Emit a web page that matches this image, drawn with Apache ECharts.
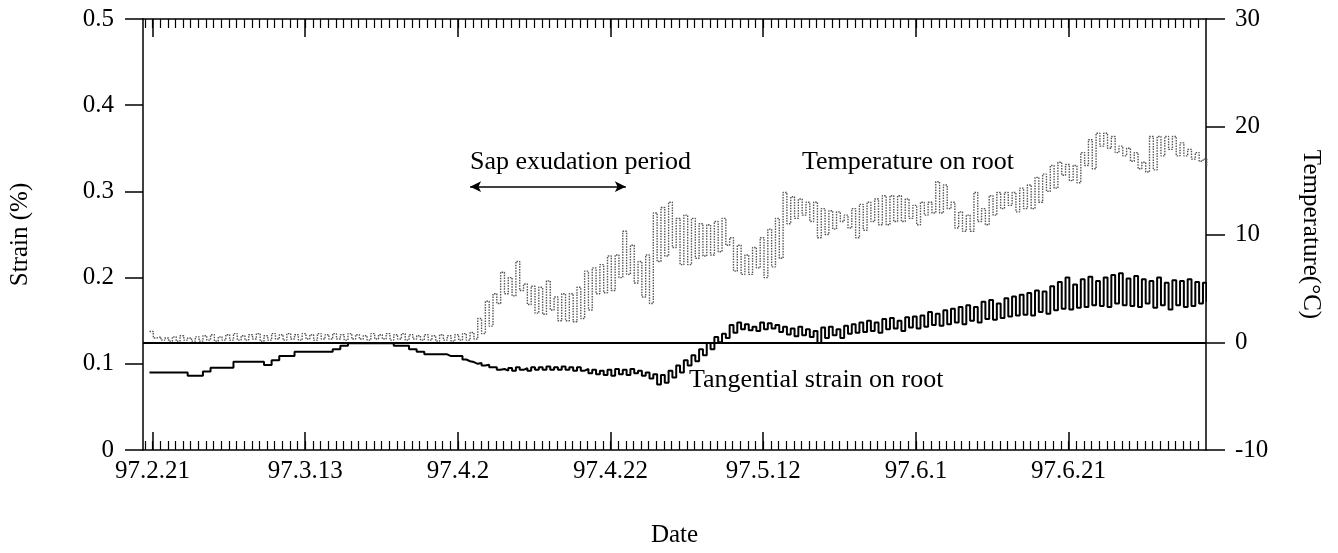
<!DOCTYPE html>
<html><head><meta charset="utf-8">
<script src="https://cdn.jsdelivr.net/npm/echarts@6/dist/echarts.min.js"></script>
<style>html,body{margin:0;padding:0;background:#fff}#c{width:1338px;height:553px}</style>
</head><body><div id="c"></div>
<script>
// day 0 = 97.2.21; one entry per day starting at firstDay
const firstDay = -1;
const tickDays = [0, 20, 40, 60, 80, 100, 120];
const tickLabels = ['97.2.21', '97.3.13', '97.4.2', '97.4.22', '97.5.12', '97.6.1', '97.6.21'];

// Temperature on root (°C): daily high / low
const tempHigh = [1.0,
  0.5,0.4,0.5,0.6,0.4,0.5,0.6,0.7,0.5,0.7,
  0.8,0.6,0.7,0.8,0.6,0.8,0.7,0.8,0.7,0.8,
  0.7,0.8,0.7,0.8,0.7,0.8,0.7,0.6,0.8,0.7,
  0.8,0.7,0.8,0.7,0.6,0.7,0.6,0.7,0.6,0.7,
  0.8,0.9,2.2,3.8,4.5,6.5,6.0,7.5,5.4,5.2,
  5.1,5.7,4.2,4.5,4.5,5.1,6.6,6.9,7.2,8.0,
  8.1,10.3,9.0,7.5,8.1,12.0,12.5,13.0,11.5,11.8,
  11.5,11.0,10.9,11.2,11.5,9.7,9.0,8.1,8.8,9.7,
  10.5,11.5,13.9,13.5,13.3,13.0,13.0,12.4,12.2,12.1,
  11.8,12.4,12.8,13.0,13.3,13.6,13.6,13.6,13.3,12.7,
  13.0,13.0,14.9,14.6,13.0,12.1,11.8,13.9,12.4,13.6,
  13.9,13.9,13.9,14.3,14.6,15.3,15.6,16.4,16.7,16.5,
  16.4,17.6,18.8,19.4,19.4,19.1,18.2,18.0,17.6,16.7,
  19.1,19.1,19.1,19.1,18.5,17.9,17.6,17.0];
const tempLow = [0.4,
  0.2,0.1,0.1,0.2,0.1,0.1,0.2,0.1,0.2,0.2,
  0.2,0.2,0.3,0.1,0.2,0.3,0.2,0.3,0.2,0.3,
  0.2,0.3,0.3,0.3,0.2,0.3,0.3,0.2,0.3,0.3,
  0.2,0.3,0.2,0.3,0.2,0.2,0.1,0.2,0.1,0.2,
  0.2,0.3,0.8,1.5,3.6,4.5,4.3,4.8,3.5,2.7,
  2.6,3.0,2.0,2.0,1.9,2.2,3.0,4.5,4.6,4.8,
  6.0,6.3,5.5,4.2,3.6,7.5,8.0,8.8,7.2,7.2,
  7.8,8.0,8.1,8.4,9.0,6.6,6.3,6.3,6.9,6.0,
  7.0,7.8,11.0,11.5,11.8,11.2,9.7,10.0,10.5,11.2,
  10.6,9.7,10.4,11.2,10.9,10.9,11.2,11.2,11.5,10.9,
  11.8,12.0,12.0,12.4,10.6,10.3,10.3,11.2,10.9,11.8,
  12.4,12.7,12.1,12.4,12.4,13.0,14.0,14.3,15.5,15.0,
  14.8,16.4,16.1,18.2,18.0,17.6,17.3,16.8,16.1,15.8,
  16.0,17.3,17.9,17.3,17.3,17.0,16.8,16.4];

// Tangential strain on root (%): daily high / low
const strainHigh = [0.090,
  0.090,0.090,0.090,0.090,0.086,0.086,0.091,0.0955,0.0955,0.0955,
  0.1025,0.1025,0.1025,0.1025,0.0986,0.104,0.109,0.109,0.114,0.114,
  0.114,0.114,0.114,0.117,0.121,0.1237,0.1237,0.1237,0.1237,0.1237,
  0.1237,0.121,0.121,0.117,0.114,0.111,0.111,0.111,0.109,0.109,
  0.105,0.102,0.101,0.099,0.096,0.094,0.095,0.096,0.095,0.096,
  0.096,0.097,0.096,0.097,0.096,0.096,0.094,0.093,0.092,0.093,
  0.094,0.093,0.094,0.092,0.090,0.088,0.087,0.092,0.098,0.104,
  0.110,0.117,0.124,0.131,0.135,0.145,0.148,0.146,0.143,0.148,
  0.147,0.145,0.143,0.141,0.143,0.140,0.138,0.142,0.143,0.140,
  0.144,0.146,0.148,0.150,0.148,0.152,0.153,0.150,0.154,0.155,
  0.156,0.160,0.158,0.162,0.164,0.166,0.168,0.166,0.172,0.174,
  0.170,0.176,0.178,0.180,0.182,0.185,0.184,0.190,0.195,0.200,
  0.192,0.198,0.201,0.196,0.200,0.203,0.205,0.199,0.202,0.198,
  0.196,0.200,0.194,0.197,0.196,0.198,0.195,0.194];
const strainLow = [0.090,
  0.090,0.090,0.090,0.090,0.086,0.086,0.091,0.0955,0.0955,0.0955,
  0.1025,0.1025,0.1025,0.1025,0.0986,0.104,0.109,0.109,0.114,0.114,
  0.114,0.114,0.114,0.117,0.121,0.1237,0.1237,0.1237,0.1237,0.1237,
  0.1237,0.121,0.121,0.117,0.114,0.111,0.111,0.111,0.109,0.109,
  0.103,0.100,0.098,0.096,0.093,0.092,0.092,0.093,0.092,0.093,
  0.093,0.093,0.093,0.093,0.092,0.092,0.089,0.088,0.087,0.086,
  0.088,0.087,0.089,0.086,0.083,0.076,0.078,0.084,0.090,0.098,
  0.103,0.110,0.117,0.125,0.130,0.136,0.140,0.139,0.138,0.140,
  0.141,0.137,0.134,0.132,0.133,0.131,0.124,0.130,0.133,0.130,
  0.135,0.136,0.137,0.138,0.136,0.140,0.141,0.138,0.142,0.141,
  0.143,0.145,0.144,0.146,0.148,0.146,0.150,0.148,0.152,0.151,
  0.153,0.155,0.156,0.157,0.156,0.160,0.158,0.162,0.164,0.163,
  0.165,0.166,0.168,0.167,0.166,0.170,0.168,0.167,0.166,0.170,
  0.165,0.168,0.163,0.168,0.166,0.167,0.170,0.172];

// Sap exudation period (days after 97.2.21)
const sapStart = 41.6, sapEnd = 62.0, sapLevel = 0.3055;

function pairs(hi, lo) {
  const out = [];
  for (let i = 0; i < hi.length; i++) {
    const d = firstDay + i;
    out.push([d + 0.6, hi[i]]);
    out.push([d + 1.1, lo[i]]);
  }
  return out;
}
const dailyTicks = [];
for (let d = -1; d <= 137; d++) dailyTicks.push(d);

const FONT = 'Liberation Serif';
const black = { color: '#000', width: 1.5 };
const xBase = { type: 'value', min: -1.25, max: 138, splitLine: { show: false } };
const txt = { fontFamily: FONT, fontSize: 25, color: '#000' };

const chart = echarts.init(document.getElementById('c'), null, { renderer: 'canvas' });
chart.setOption({
  animation: false,
  backgroundColor: '#fff',
  grid: { left: 140, right: 132, top: 19, bottom: 103, containLabel: false },
  xAxis: [
    Object.assign({}, xBase, {
      position: 'bottom',
      axisLine: { show: true, onZero: false, lineStyle: black },
      axisTick: { show: true, inside: true, length: 18, customValues: tickDays, lineStyle: black },
      axisLabel: Object.assign({ customValues: tickDays, margin: 9,
        formatter: v => tickLabels[tickDays.indexOf(v)] }, txt),
      name: 'Date', nameLocation: 'middle', nameGap: 73, nameTextStyle: txt
    }),
    Object.assign({}, xBase, {
      position: 'bottom',
      axisLine: { show: false, onZero: false },
      axisTick: { show: true, inside: true, length: 9, customValues: dailyTicks, lineStyle: { color: '#000', width: 1.2 } },
      axisLabel: { show: false }
    }),
    Object.assign({}, xBase, {
      position: 'top',
      axisLine: { show: true, onZero: false, lineStyle: black },
      axisTick: { show: true, inside: true, length: 18, customValues: tickDays, lineStyle: black },
      axisLabel: { show: false }
    }),
    Object.assign({}, xBase, {
      position: 'top',
      axisLine: { show: false, onZero: false },
      axisTick: { show: true, inside: true, length: 9, customValues: dailyTicks, lineStyle: { color: '#000', width: 1.2 } },
      axisLabel: { show: false }
    })
  ],
  yAxis: [
    {
      type: 'value', min: 0, max: 0.5, interval: 0.1, position: 'left',
      axisLine: { show: true, onZero: false, lineStyle: black },
      axisTick: { show: true, inside: false, length: 18, lineStyle: black },
      axisLabel: Object.assign({ margin: 29, formatter: v => (v === 0 ? '0' : v.toFixed(1)) }, txt),
      splitLine: { show: false },
      name: 'Strain (%)', nameLocation: 'middle', nameRotate: 90, nameGap: 110, nameTextStyle: txt
    },
    {
      type: 'value', min: -10, max: 30, interval: 10, position: 'right',
      axisLine: { show: true, onZero: false, lineStyle: black },
      axisTick: { show: true, inside: false, length: 19, lineStyle: black },
      axisLabel: Object.assign({ margin: 29 }, txt),
      splitLine: { show: false },
      name: 'Temperature(°C)', nameLocation: 'middle', nameRotate: -90, nameGap: 92, nameTextStyle: txt
    }
  ],
  series: [
    {
      name: 'Temperature on root', type: 'line', xAxisIndex: 0, yAxisIndex: 1,
      step: 'end', symbol: 'none', data: pairs(tempHigh, tempLow),
      lineStyle: { color: '#555', width: 1.4, type: [1.5, 1.2] },
      markLine: {
        silent: true, symbol: ['none', 'none'], label: { show: false },
        lineStyle: { color: '#000', width: 1.8, type: 'solid' },
        data: [{ yAxis: 0 }]
      }
    },
    {
      name: 'Tangential strain on root', type: 'line', xAxisIndex: 0, yAxisIndex: 0,
      step: 'end', symbol: 'none', data: pairs(strainHigh, strainLow),
      lineStyle: { color: '#000', width: 2 },
      markLine: {
        silent: true, symbol: ['arrow', 'arrow'], symbolSize: [8, 11], label: { show: false },
        lineStyle: { color: '#000', width: 1.5, type: 'solid' },
        data: [[{ coord: [sapStart, sapLevel] }, { coord: [sapEnd, sapLevel] }]]
      }
    }
  ],
  graphic: [
    { type: 'text', x: 470, y: 162, style: { text: 'Sap exudation period', fontFamily: FONT, fontSize: 26, fill: '#000', align: 'left', verticalAlign: 'middle' } },
    { type: 'text', x: 802, y: 162, style: { text: 'Temperature on root', fontFamily: FONT, fontSize: 26, fill: '#000', align: 'left', verticalAlign: 'middle' } },
    { type: 'text', x: 689, y: 380, style: { text: 'Tangential strain on root', fontFamily: FONT, fontSize: 26, fill: '#000', align: 'left', verticalAlign: 'middle' } }
  ]
});
</script>
</body></html>
